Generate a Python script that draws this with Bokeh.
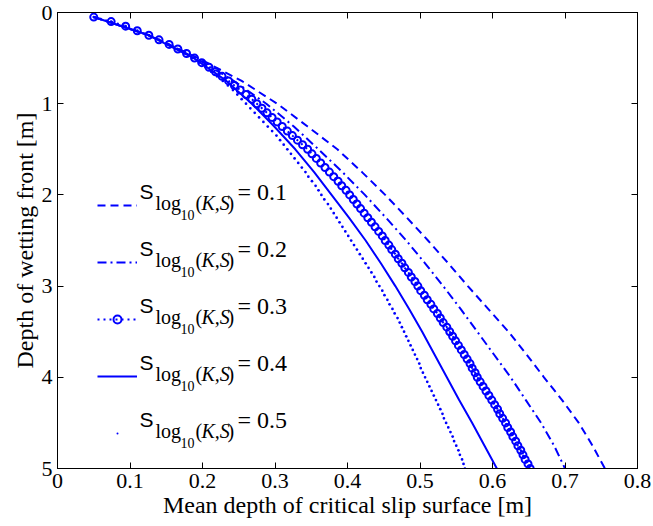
from bokeh.plotting import figure
from bokeh.models import (Range1d, LinearAxis, FixedTicker, Legend, LegendItem, Label)
from bokeh.embed import file_html
from bokeh.resources import INLINE

# ---------------- data ----------------
depth_fine = [round(0.05 * i, 2) for i in range(1, 101)]
x_s03 = [.050, .074, .094, .110, .126, .140, .154, .166, .178, .189,
         .199, .209, .218, .227, .236, .244, .252, .260, .268, .275,
         .282, .289, .296, .303, .310, .317, .324, .331, .338, .345,
         .351, .357, .363, .369, .375, .381, .387, .392, .398, .403,
         .408, .413, .418, .423, .428, .433, .438, .443, .448, .452,
         .457, .461, .466, .470, .475, .479, .484, .488, .493, .497,
         .501, .506, .510, .515, .519, .524, .528, .532, .537, .541,
         .545, .549, .553, .557, .561, .565, .569, .572, .576, .579,
         .583, .587, .591, .595, .599, .603, .607, .610, .614, .618,
         .621, .625, .628, .632, .635, .639, .642, .645, .649, .652]
x_s05 = [.050, .074, .094, .110, .126, .140, .153, .165, .176, .186,
         .195, .204, .212, .220, .228, .235, .242, .248, .254, .260,
         .266, .272, .278, .284, .290, .296, .302, .307, .312, .317,
         .322, .327, .332, .337, .342, .346, .351, .356, .360, .364,
         .368, .373, .377, .381, .385, .389, .393, .397, .401, .405,
         .409, .413, .417, .421, .425, .429, .433, .437, .440, .444,
         .448, .451, .455, .458, .462, .465, .469, .472, .475, .478,
         .481, .484, .487, .490, .493, .496, .499, .501, .504, .507,
         .510, .513, .516, .519, .522, .525, .528, .531, .533, .536,
         .539, .542, .545, .547, .550, .553, .555, .558, .560, .562]
depth_coarse = [0.05, 0.25, 0.5, 0.75, 1.0, 1.25, 1.5, 1.75, 2.0, 2.25, 2.5,
                2.75, 3.0, 3.25, 3.5, 3.75, 4.0, 4.25, 4.5, 4.75, 5.0]
x_s01 = [.050, .127, .194, .254, .303, .345, .386, .420, .452, .482, .511,
         .539, .566, .594, .622, .647, .671, .696, .719, .738, .755]
x_s02 = [.050, .126, .191, .243, .288, .326, .360, .393, .424, .453, .481,
         .507, .532, .556, .579, .602, .625, .646, .667, .685, .700]
x_s04 = [.050, .126, .188, .233, .268, .299, .328, .354, .378, .402, .425,
         .446, .466, .485, .503, .520, .537, .554, .572, .589, .606]
legend_values = ["0.1", "0.2", "0.3", "0.4", "0.5"]
x_ticks = [0, 0.1, 0.2, 0.3, 0.4, 0.5, 0.6, 0.7, 0.8]
x_tick_labels = ["0", "0.1", "0.2", "0.3", "0.4", "0.5", "0.6", "0.7", "0.8"]
y_ticks = [0, 1, 2, 3, 4, 5]
y_tick_labels = ["0", "1", "2", "3", "4", "5"]

BLUE = "#0000ff"
SERIF = "Liberation Serif"
SANS = "Liberation Sans"

W, H = 653, 526
L, R, T, B = 57, 637, 12, 468

p = figure(width=W, height=H, output_backend="svg", toolbar_location=None,
           x_range=Range1d(0, 0.8), y_range=Range1d(5, 0),
           min_border_left=L, min_border_right=W - R,
           min_border_top=T, min_border_bottom=H - B)
p.grid.visible = False
p.background_fill_color = "white"
p.border_fill_color = "white"
p.outline_line_color = "black"
p.outline_line_width = 1


def style_axis(ax, ticks, labels, show_labels=True):
    ax.ticker = FixedTicker(ticks=ticks)
    ax.major_label_overrides = {t: (lab if show_labels else "") for t, lab in zip(ticks, labels)}
    ax.major_tick_in = 6
    ax.major_tick_out = 0
    ax.minor_tick_line_color = None
    ax.axis_line_color = "black"
    ax.major_tick_line_color = "black"
    ax.major_label_text_font = SERIF
    ax.major_label_text_color = "black"
    if show_labels:
        ax.major_label_text_font_size = "22px"
        ax.major_label_standoff = 5
    else:
        ax.major_label_text_font_size = "0px"
        ax.major_label_standoff = 0


style_axis(p.xaxis[0], x_ticks, x_tick_labels)
style_axis(p.yaxis[0], y_ticks, y_tick_labels)
p.xaxis.axis_label = "Mean depth of critical slip surface [m]"
p.yaxis.axis_label = "Depth of wetting front [m]"
for ax in (p.xaxis[0], p.yaxis[0]):
    ax.axis_label_text_font = SERIF
    ax.axis_label_text_font_style = "normal"
    ax.axis_label_text_font_size = "24px"
    ax.axis_label_text_color = "black"
    ax.axis_label_standoff = 1

top_ax = LinearAxis()
right_ax = LinearAxis()
style_axis(top_ax, x_ticks, x_tick_labels, show_labels=False)
style_axis(right_ax, y_ticks, y_tick_labels, show_labels=False)
p.add_layout(top_ax, "above")
p.add_layout(right_ax, "right")

# ---------------- curves ----------------
r1 = p.line(x_s01, depth_coarse, line_color=BLUE, line_width=2, line_dash="8 5")
r2 = p.line(x_s02, depth_coarse, line_color=BLUE, line_width=2, line_dash="9 4 2 4")
r3l = p.line(x_s03, depth_fine, line_color=BLUE, line_width=2, line_dash="2 4")
r3m = p.scatter(x_s03, depth_fine, marker="circle", size=7, line_color=BLUE,
                line_width=2, fill_color=None)
r4 = p.line(x_s04, depth_coarse, line_color=BLUE, line_width=2)
r5 = p.scatter(x_s05, depth_fine, marker="dot", size=11, line_color=BLUE,
               fill_color=BLUE, line_width=1)

legend = Legend(items=[LegendItem(label="", renderers=[r1]),
                       LegendItem(label="", renderers=[r2]),
                       LegendItem(label="", renderers=[r3l, r3m]),
                       LegendItem(label="", renderers=[r4]),
                       LegendItem(label="", renderers=[r5])],
                location=(40, 25), padding=0, margin=0, spacing=37,
                glyph_width=40, glyph_height=20, label_height=20, label_width=0,
                label_standoff=0, label_text_font_size="1px",
                border_line_color=None, background_fill_alpha=0)
p.add_layout(legend)


def X(px):
    return (px - L) / (R - L) * 0.8


def Y(py):
    return (py - T) / (B - T) * 5.0


def lab(text, px, py, font, size, style="normal"):
    p.add_layout(Label(x=X(px), y=Y(py), text=text, text_font=font,
                       text_font_size=size, text_font_style=style,
                       text_color="black", text_baseline="alphabetic",
                       text_align="left"))


centers = [205, 262, 319, 376, 433]
for yc, v in zip(centers, legend_values):
    lab("S", 139, yc - 14, SANS, "21px")
    lab("log", 155, yc - 3, SERIF, "20px")
    lab("10", 180, yc + 9, SERIF, "14px")
    lab("(", 195, yc - 3, SERIF, "20px")
    lab("K,S", 201, yc - 3, SERIF, "20px", "italic")
    lab(")", 227, yc - 3, SERIF, "20px")
    lab("= " + v, 237, yc - 14, SERIF, "24px")

open("out.html", "w").write(file_html(p, INLINE))
